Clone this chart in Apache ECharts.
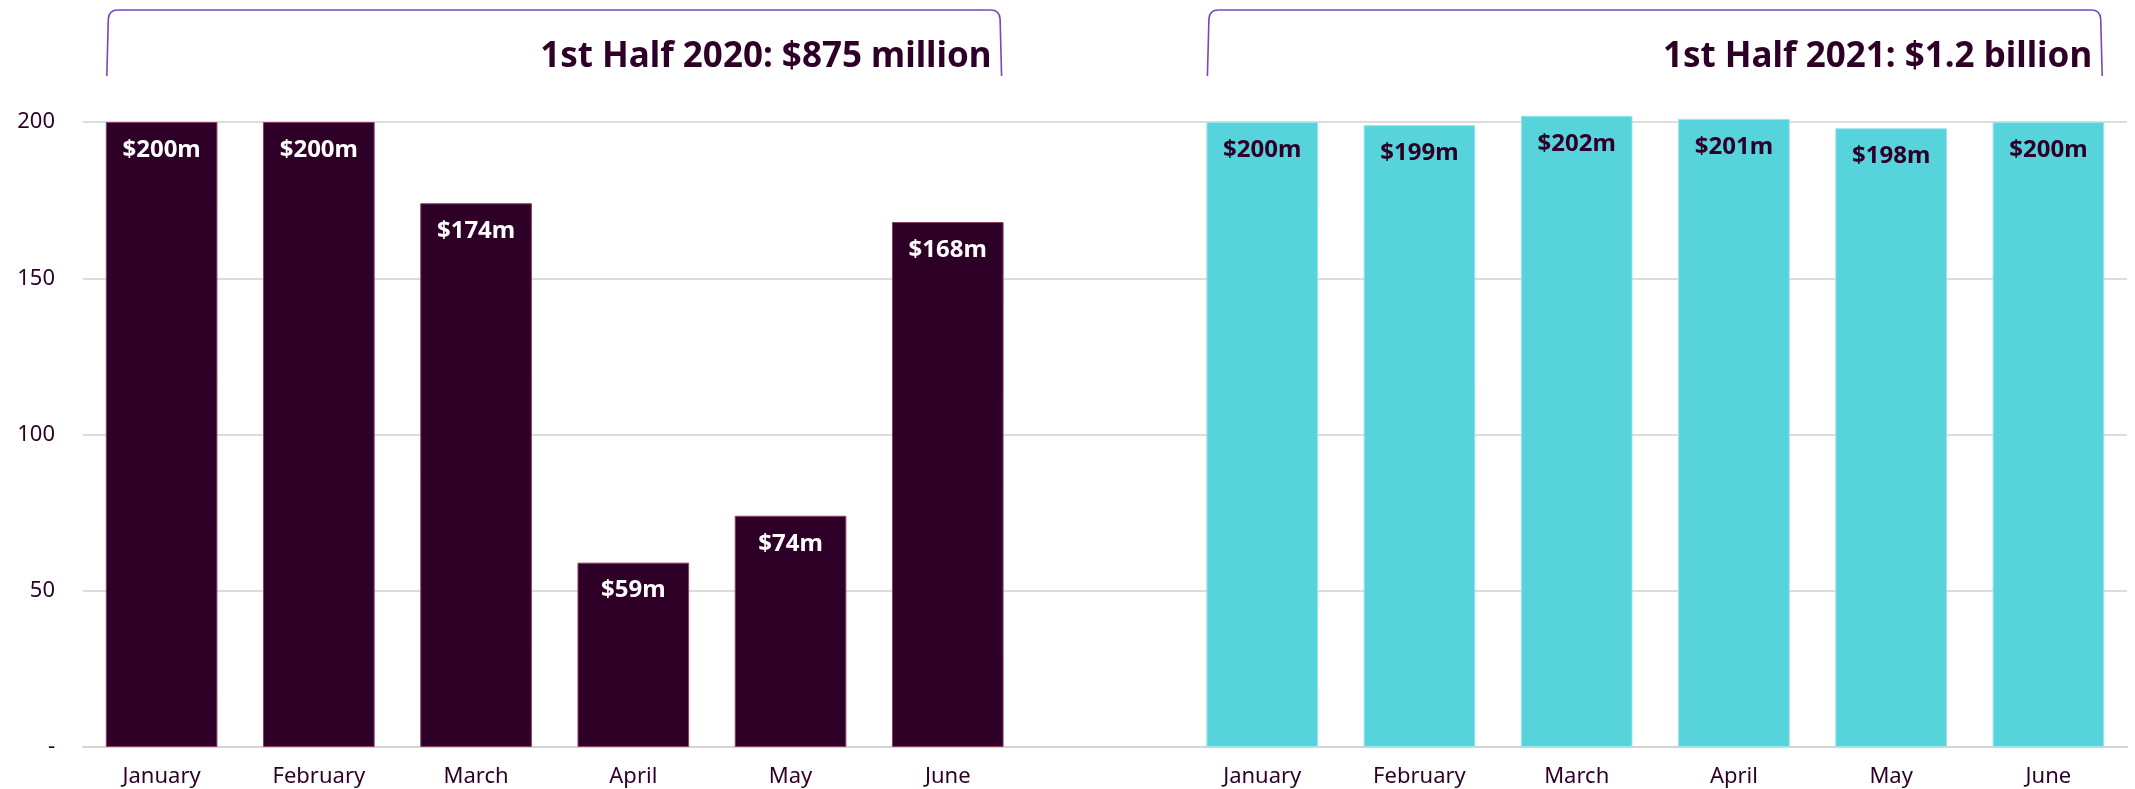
<!DOCTYPE html>
<html>
<head>
<meta charset="utf-8">
<script src="https://cdn.jsdelivr.net/npm/echarts@6/dist/echarts.min.js"></script>
<style>
  html, body { margin: 0; padding: 0; background: #ffffff; }
  #chart { width: 2135px; height: 789px; }
</style>
</head>
<body>
<div id="chart"></div>
<script>
// ---- data ----
const months = ['January', 'February', 'March', 'April', 'May', 'June'];
const values2020 = [200, 200, 174, 59, 74, 168];
const values2021 = [200, 199, 202, 201, 198, 200];
const title2020 = '1st Half 2020: $875 million';
const title2021 = '1st Half 2021: $1.2 billion';
const yTicks = [0, 50, 100, 150, 200];

// ---- build axis / series arrays ----
const categories = months.map(m => m + '|2020').concat(['|gap']).concat(months.map(m => m + '|2021'));
const s2020 = values2020.concat(['-'], months.map(() => '-'));
const s2021 = months.map(() => '-').concat(['-'], values2021);

const DARK = '#2e0027';
const CYAN = '#57d3dc';
const FONT = '"Noto Sans", "Open Sans", sans-serif';

const chart = echarts.init(document.getElementById('chart'), null, { renderer: 'canvas' });

const option = {
  animation: false,
  backgroundColor: '#ffffff',
  grid: { left: 83, right: 8, top: 122, bottom: 42, containLabel: false },
  xAxis: {
    type: 'category',
    data: categories,
    axisLine: { show: true, lineStyle: { color: '#d4d4d4', width: 2 } },
    axisTick: { show: false },
    axisLabel: {
      color: DARK, fontFamily: FONT, fontSize: 22, margin: 19,
      formatter: v => v.split('|')[0]
    }
  },
  yAxis: {
    type: 'value',
    min: 0, max: yTicks[yTicks.length - 1], interval: 50,
    axisLine: { show: false },
    axisTick: { show: false },
    splitLine: { show: true, lineStyle: { color: '#dcdcdc', width: 2 } },
    axisLabel: {
      color: DARK, fontFamily: FONT, fontSize: 22, margin: 28,
      formatter: v => (v === 0 ? '-' : String(v))
    }
  },
  series: [
    {
      name: '2020', type: 'bar', data: s2020, barWidth: '71%', barGap: '-100%', clip: false,
      itemStyle: { color: DARK, borderColor: '#8a3f66', borderWidth: 1 },
      label: {
        show: true, position: 'insideTop', distance: 16,
        color: '#ffffff', fontFamily: FONT, fontWeight: 'bold', fontSize: 24,
        formatter: p => '$' + p.value + 'm'
      }
    },
    {
      name: '2021', type: 'bar', data: s2021, barWidth: '71%', barGap: '-100%', clip: false,
      itemStyle: { color: CYAN, borderColor: '#9be4ea', borderWidth: 1 },
      label: {
        show: true, position: 'insideTop', distance: 16,
        color: DARK, fontFamily: FONT, fontWeight: 'bold', fontSize: 24,
        formatter: p => '$' + p.value + 'm'
      }
    }
  ]
};

chart.setOption(option);

// ---- brackets & titles positioned from the axis scale ----
function bracketFor(firstIdx, lastIdx, title) {
  const c0 = chart.convertToPixel({ xAxisIndex: 0 }, firstIdx);
  const c1 = chart.convertToPixel({ xAxisIndex: 0 }, lastIdx);
  const band = chart.convertToPixel({ xAxisIndex: 0 }, 1) - chart.convertToPixel({ xAxisIndex: 0 }, 0);
  const half = band * 0.71 / 2;
  const x1 = c0 - half + 1, x2 = c1 + half - 2;
  const yTop = 10, yBot = 76, r = 9;
  const stroke = { stroke: '#7c46b4', lineWidth: 1.6, fill: null };
  return [
    { type: 'line', shape: { x1: x1, y1: yBot, x2: x1 + 1.5, y2: yTop + r }, style: stroke },
    { type: 'bezierCurve', shape: { x1: x1 + 1.5, y1: yTop + r, cpx1: x1 + 2, cpy1: yTop, x2: x1 + r + 2, y2: yTop }, style: stroke },
    { type: 'line', shape: { x1: x1 + r + 2, y1: yTop, x2: x2 - r - 2, y2: yTop }, style: stroke },
    { type: 'bezierCurve', shape: { x1: x2 - r - 2, y1: yTop, cpx1: x2 - 2, cpy1: yTop, x2: x2 - 1.5, y2: yTop + r }, style: stroke },
    { type: 'line', shape: { x1: x2 - 1.5, y1: yTop + r, x2: x2, y2: yBot }, style: stroke },
    {
      type: 'text', x: x2 - 10, y: 57,
      style: {
        text: title, fill: DARK, font: `bold 35px ${FONT}`,
        align: 'right', verticalAlign: 'middle'
      }
    }
  ];
}

chart.setOption({
  graphic: bracketFor(0, 5, title2020).concat(bracketFor(7, 12, title2021))
});
</script>
</body>
</html>
